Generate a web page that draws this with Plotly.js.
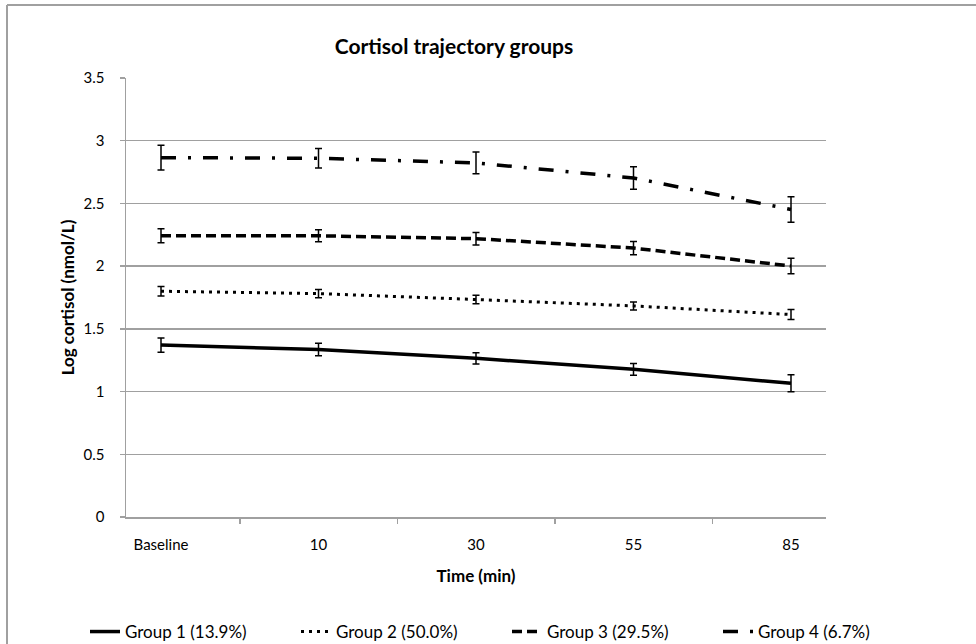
<!DOCTYPE html>
<html>
<head>
<meta charset="utf-8">
<script src="https://cdn.plot.ly/plotly-3.0.1.min.js"></script>
<style>
  html, body { margin: 0; padding: 0; background: #ffffff; }
  #chart { width: 976px; height: 644px; }
</style>
</head>
<body>
<div id="chart"></div>
<script>
// Sampling times (category axis)
const timepoints = ["Baseline", "10", "30", "55", "85"];

// Mean log cortisol per trajectory group
const group1 = [1.371, 1.336, 1.265, 1.177, 1.066];
const group2 = [1.800, 1.781, 1.734, 1.683, 1.614];
const group3 = [2.242, 2.242, 2.219, 2.144, 2.001];
const group4 = [2.865, 2.860, 2.823, 2.703, 2.452];

// Half-widths of the error bars
const group1Err = [0.057, 0.050, 0.045, 0.046, 0.068];
const group2Err = [0.038, 0.033, 0.033, 0.032, 0.040];
const group3Err = [0.056, 0.048, 0.050, 0.053, 0.062];
const group4Err = [0.098, 0.077, 0.087, 0.090, 0.102];

const groupNames = ["Group 1 (13.9%)", "Group 2 (50.0%)", "Group 3 (29.5%)", "Group 4 (6.7%)"];

const FONT = "Lato, 'Open Sans', sans-serif";

function errBars(arr) {
  return { type: "data", array: arr, visible: true, color: "#000000", thickness: 1.5, width: 3.5 };
}

const series = [
  { y: group1, err: group1Err, name: groupNames[0], dash: "solid", width: 3.5 },
  { y: group2, err: group2Err, name: groupNames[1], dash: "3px,5px", width: 3 },
  { y: group3, err: group3Err, name: groupNames[2], dash: "10px,5px", width: 3.5 },
  { y: group4, err: group4Err, name: groupNames[3], dash: "15px,12px,3px,12px", width: 3.5 }
];

// one legend per series so the bottom row keeps even spacing
const legendIds = ["legend", "legend2", "legend3", "legend4"];

const traces = series.map((s, i) => ({
  type: "scatter",
  mode: "lines",
  x: timepoints,
  y: s.y,
  name: s.name,
  legend: legendIds[i],
  line: { color: "#000000", width: s.width, dash: s.dash },
  error_y: errBars(s.err),
  hoverinfo: "x+y+name"
}));

// plot area pixel frame, used to place the outer chart border
const L = 126, R = 150, T = 78, B = 127, W = 976, H = 644;
const pw = W - L - R, ph = H - T - B;
const px = v => (v - L) / pw;
const py = v => (H - B - v) / ph;

const layout = {
  width: W,
  height: H,
  margin: { l: L, r: R, t: T, b: B, pad: 0 },
  paper_bgcolor: "#ffffff",
  plot_bgcolor: "#ffffff",
  font: { family: FONT, size: 15, color: "#000000" },
  title: {
    text: "<b>Cortisol trajectory groups</b>",
    font: { family: FONT, size: 21, color: "#000000" },
    xref: "container", x: 454 / W, xanchor: "center",
    yref: "container", y: 1 - 47 / H, yanchor: "middle"
  },
  xaxis: {
    type: "category",
    tickson: "boundaries",
    ticks: "outside",
    ticklen: 5,
    tickcolor: "#a0a0a0",
    tickwidth: 1.5,
    showline: true,
    linecolor: "#a0a0a0",
    linewidth: 1.5,
    showgrid: false,
    zeroline: false,
    tickfont: { family: FONT, size: 15, color: "#000000" },
    ticklabelstandoff: 13,
    title: {
      text: "<b>Time (min)</b>",
      font: { family: FONT, size: 17, color: "#000000" },
      standoff: 18
    },
    fixedrange: true
  },
  yaxis: {
    range: [0, 3.5],
    dtick: 0.5,
    tick0: 0,
    ticks: "outside",
    ticklen: 5,
    tickcolor: "#a0a0a0",
    tickwidth: 1.5,
    showline: true,
    linecolor: "#a0a0a0",
    linewidth: 1.5,
    showgrid: true,
    gridcolor: "#a0a0a0",
    gridwidth: 1.5,
    zeroline: false,
    tickfont: { family: FONT, size: 15, color: "#000000" },
    ticklabelstandoff: 12,
    title: {
      text: "<b>Log cortisol (nmol/L)</b>",
      font: { family: FONT, size: 17, color: "#000000" },
      standoff: 4
    },
    fixedrange: true
  },
  shapes: [
    // chart frame: top and left edges
    { type: "line", xref: "paper", yref: "paper", x0: px(7), x1: px(W + 5), y0: py(5), y1: py(5),
      line: { color: "#a0a0a0", width: 2 } },
    { type: "line", xref: "paper", yref: "paper", x0: px(7), x1: px(7), y0: py(5), y1: py(H + 5),
      line: { color: "#a0a0a0", width: 2 } }
  ],
  showlegend: true
};

// bottom legend row: four single-entry legends, 211 px apart
legendIds.forEach((id, i) => {
  layout[id] = {
    orientation: "h",
    xref: "container", x: (85 + 211 * i) / W, xanchor: "left",
    yref: "container", y: 1 - 632 / H, yanchor: "middle",
    font: { family: FONT, size: 17, color: "#000000" },
    bgcolor: "rgba(0,0,0,0)"
  };
});

Plotly.newPlot("chart", traces, layout, { displayModeBar: false, staticPlot: true });
</script>
</body>
</html>
